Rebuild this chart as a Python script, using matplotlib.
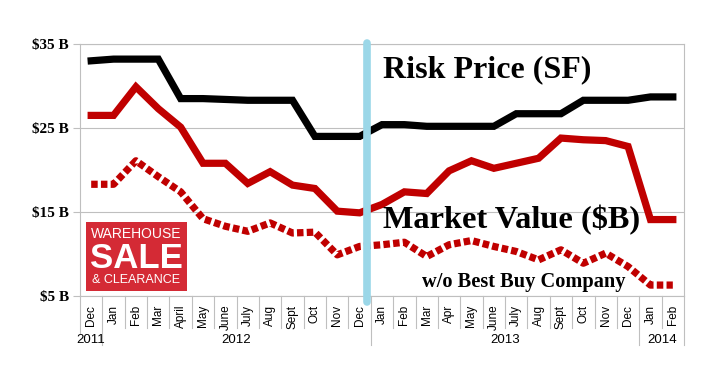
"""
plot.py
Risk price vs market value chart, Dec 2011 - Feb 2014.
"""

import matplotlib
matplotlib.use("Agg")
import matplotlib.pyplot as plt
import matplotlib.transforms as mtransforms
from matplotlib.patches import Rectangle

# Data
months = ["Dec", "Jan", "Feb", "Mar", "April", "May", "June", "July", "Aug", "Sept", "Oct", "Nov", "Dec",
          "Jan", "Feb", "Mar", "Apr", "May", "June", "July", "Aug", "Sept", "Oct", "Nov", "Dec",
          "Jan", "Feb"]
years = ["2011", "2012", "2013", "2014"]
year_counts = [1, 12, 12, 2]

risk_price = [33.0, 33.2, 33.2, 33.2, 28.5, 28.5, 28.4, 28.3, 28.3, 28.3, 24.0, 24.0, 24.0,
              25.4, 25.4, 25.2, 25.2, 25.2, 25.2, 26.7, 26.7, 26.7, 28.3, 28.3, 28.3,
              28.7, 28.7]
market_value = [26.5, 26.5, 29.9, 27.3, 25.1, 20.8, 20.8, 18.4, 19.8, 18.2, 17.8, 15.1, 14.9,
                15.9, 17.4, 17.2, 19.9, 21.1, 20.2, 20.8, 21.4, 23.8, 23.6, 23.5, 22.8,
                14.1, 14.1]
market_value_ex_bby = [18.3, 18.3, 21.1, 19.2, 17.4, 14.2, 13.3, 12.7, 13.7, 12.5, 12.6, 9.9, 10.9,
                       11.1, 11.4, 9.7, 11.1, 11.6, 10.9, 10.3, 9.3, 10.5, 8.9, 10.1, 8.5,
                       6.3, 6.3]
y_ticks = [5, 15, 25, 35]
y_tick_labels = ["$5 B", "$15 B", "$25 B", "$35 B"]

# position of the blue divider between 2012 and 2013
divider_x = 12.35

RED = "#C00000"
GRID = "#BFBFBF"
SERIF = "Liberation Serif"
SANS = "Liberation Sans"

fig = plt.figure(figsize=(7.12, 3.70), dpi=100)
ax = fig.add_axes([80 / 712, 1 - 296 / 370, 604 / 712, 252 / 370])

x = list(range(len(months)))

ax.plot(x, risk_price, color="black", lw=5.2, solid_joinstyle="miter", zorder=3)
ax.plot(x, market_value, color=RED, lw=5.2, solid_joinstyle="miter", zorder=3)
ax.plot(x, market_value_ex_bby, color=RED, lw=5.2, dashes=(0.9, 0.45),
        dash_capstyle="butt", zorder=3)

# blue divider line
ax.plot([divider_x, divider_x], [35.1, 4.3], color="#9BD7E8", lw=5.5,
        solid_capstyle="round", clip_on=False, zorder=4)

ax.set_xlim(-0.5, len(months) - 0.5)
ax.set_ylim(5, 35)
ax.set_yticks(y_ticks)
ax.set_yticklabels(y_tick_labels, fontfamily=SERIF, fontweight="bold", fontsize=11)
ax.tick_params(axis="y", length=5, width=0.8, color=GRID, pad=3)
ax.set_xticks([])
ax.grid(axis="y", color=GRID, lw=0.8)
ax.set_axisbelow(True)
for side in ["left", "right", "top", "bottom"]:
    ax.spines[side].set_color(GRID)
    ax.spines[side].set_linewidth(0.8)

# category axis: month labels, separators and year groups
trans = mtransforms.blended_transform_factory(ax.transData, ax.transAxes)
for i, m in enumerate(months):
    ax.text(i, -0.035, m, rotation=90, ha="center", va="top", fontsize=8.5,
            fontfamily=SANS, transform=trans)

year_edges = [-0.5]
for c in year_counts:
    year_edges.append(year_edges[-1] + c)

for b in range(len(months) + 1):
    edge = b - 0.5
    bottom = -0.195 if edge in year_edges[1:] else -0.125
    if b == 0:
        bottom = -0.145
    ax.plot([edge, edge], [0, bottom], color=GRID, lw=0.8, clip_on=False, transform=trans)

for yr, lo, hi in zip(years, year_edges[:-1], year_edges[1:]):
    ax.text((lo + hi) / 2, -0.175, yr, ha="center", va="center", fontsize=9.5,
            fontfamily=SANS, transform=trans)

# annotations
ax.text(13.05, 31.9, "Risk Price (SF)", fontfamily=SERIF, fontweight="bold",
        fontsize=23, va="center", ha="left", zorder=5)
ax.text(13.05, 14.05, "Market Value ($B)", fontfamily=SERIF, fontweight="bold",
        fontsize=23.3, va="center", ha="left", zorder=5)
ax.text(14.8, 6.7, "w/o Best Buy Company", fontfamily=SERIF, fontweight="bold",
        fontsize=14.7, va="center", ha="left", zorder=5)

# warehouse sale badge
badge = Rectangle((86 / 712, 1 - 291 / 370), 101 / 712, 69 / 370, transform=fig.transFigure,
                  facecolor="#D42A35", edgecolor="none", zorder=6)
fig.patches.append(badge)
fig.text(136.5 / 712, 1 - 234 / 370, "WAREHOUSE", color="white", fontsize=10,
         fontfamily=SANS, ha="center", va="center", zorder=7)
fig.text(136.5 / 712, 1 - 258 / 370, "SALE", color="white", fontsize=25, fontweight="bold",
         fontfamily=SANS, ha="center", va="center", zorder=7)
fig.text(136.5 / 712, 1 - 280 / 370, "& CLEARANCE", color="white", fontsize=9,
         fontfamily=SANS, ha="center", va="center", zorder=7)

fig.savefig("out.png", dpi=100)
